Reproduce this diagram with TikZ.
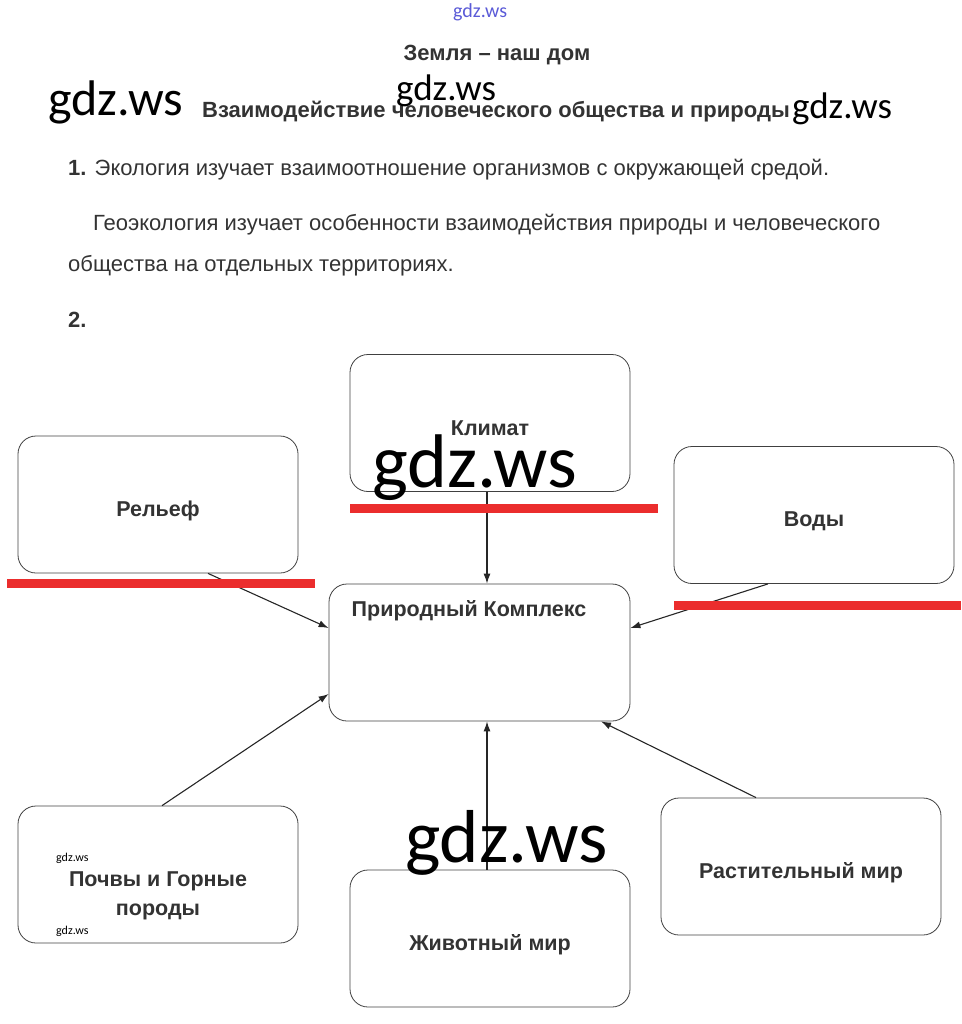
\documentclass[tikz,border=0pt]{standalone}
\usepackage{fontspec}
\setmainfont{Liberation Sans}
\newfontfamily\wmfont{Carlito}
\usetikzlibrary{arrows.meta}
\definecolor{inkgray}{RGB}{51,51,51}
\definecolor{barred}{RGB}{235,45,45}
\definecolor{wmblue}{RGB}{90,90,215}
\tikzset{
  % boxes of the scheme and the texts in them
  box node/.style={rectangle,draw=black!75,line width=0.8pt,rounded corners=18pt,minimum width=280pt,minimum height=137pt,inner sep=0},
  box text/.style={font=\fontsize{21.5}{29}\selectfont\bfseries,text=inkgray,align=center,inner sep=0},
  body text/.style={font=\fontsize{22}{26}\selectfont,text=inkgray,anchor=base west,inner sep=0},
  head text/.style={font=\fontsize{22}{26}\selectfont\bfseries,text=inkgray,inner sep=0},
  % connectors and the red strokes over them
  link/.style={draw=black!85,line width=1.1pt,-{Latex[length=10pt,width=7pt]}},
  red bar/.style={draw=barred,line width=9pt},
  watermark/.style={font=\wmfont,text=black,anchor=base west,inner sep=0}
}

\begin{document}
\begin{tikzpicture}[x=1pt,y=-1pt]
\useasboundingbox (0,0) rectangle (961,1024);

% heading and the text
\node[head text,anchor=base] (title) at (497,61) {Земля -- наш дом};
\node[head text,anchor=base west] (subtitle) at (202,118) {Взаимодействие человеческого общества и природы};
\node[body text] (line1) at (68,176) {{\bfseries 1.} Экология изучает взаимоотношение организмов с окружающей средой.};
\node[body text] (line2) at (93,231) {Геоэкология изучает особенности взаимодействия природы и человеческого};
\node[body text] (line3) at (68,271) {общества на отдельных территориях.};
\node[body text] (line4) at (68,327) {\bfseries 2.};

% boxes
\node[box node] (klimat) at (490,423) {};
\node[box node] (relief) at (158,504.5) {};
\node[box node] (vody) at (814,515) {};
\node[box node,minimum width=301pt] (pk) at (479.5,652.5) {};
\node[box node] (pochvy) at (158,874.5) {};
\node[box node] (zhiv) at (490,938.5) {};
\node[box node] (rast) at (801,866.5) {};

\node[box text] (klimatT) at (490,428) {Климат};
\node[box text] (reliefT) at (158,511) {Рельеф};
\node[box text] (vodyT) at (814,521) {Воды};
\node[box text] (pkT) at (469,611) {Природный Комплекс};
\node[box text] (pochvyT) at (158,896) {Почвы и Горные\\породы};
\node[box text] (zhivT) at (490,945) {Животный мир};
\node[box text] (rastT) at (801,873) {Растительный мир};

% links into the complex
\draw[link] ([xshift=-3pt]klimat.south) -- ([xshift=-3pt]klimat.south |- pk.north);
\draw[link] ([xshift=50pt]relief.south) -- ([yshift=24.5pt]pk.west);
\draw[link] ([xshift=-46pt]vody.south) -- ([yshift=24.5pt]pk.east);
\draw[link] ([xshift=4pt]pochvy.north) -- ([yshift=-41.5pt]pk.west);
\draw[link] ([xshift=-3pt]zhiv.north) -- ([xshift=-3pt]zhiv.north |- pk.south);
\draw[link] ([xshift=-45pt]rast.north) -- ([xshift=121.5pt]pk.south);

% red strokes
\draw[red bar] (350,508) -- (658,508);
\draw[red bar] (7,583) -- (315,583);
\draw[red bar] (674,605) -- (961,605);

% watermarks
\node[watermark,font=\wmfont\fontsize{20}{20}\selectfont,text=wmblue] (wm0) at (453,18) {gdz.ws};
\node[watermark,font=\wmfont\fontsize{50}{50}\selectfont] (wm1) at (48,116) {gdz.ws};
\node[watermark,font=\wmfont\fontsize{37}{37}\selectfont] (wm2) at (396,101) {gdz.ws};
\node[watermark,font=\wmfont\fontsize{37}{37}\selectfont] (wm3) at (792,119) {gdz.ws};
\node[watermark,font=\wmfont\fontsize{76}{76}\selectfont] (wm4) at (372,487) {gdz.ws};
\node[watermark,font=\wmfont\fontsize{75}{75}\selectfont] (wm5) at (405,862) {gdz.ws};
\node[watermark,font=\wmfont\fontsize{12}{12}\selectfont] (wm6) at (56,861) {gdz.ws};
\node[watermark,font=\wmfont\fontsize{12}{12}\selectfont] (wm7) at (56,934) {gdz.ws};
\end{tikzpicture}
\end{document}
